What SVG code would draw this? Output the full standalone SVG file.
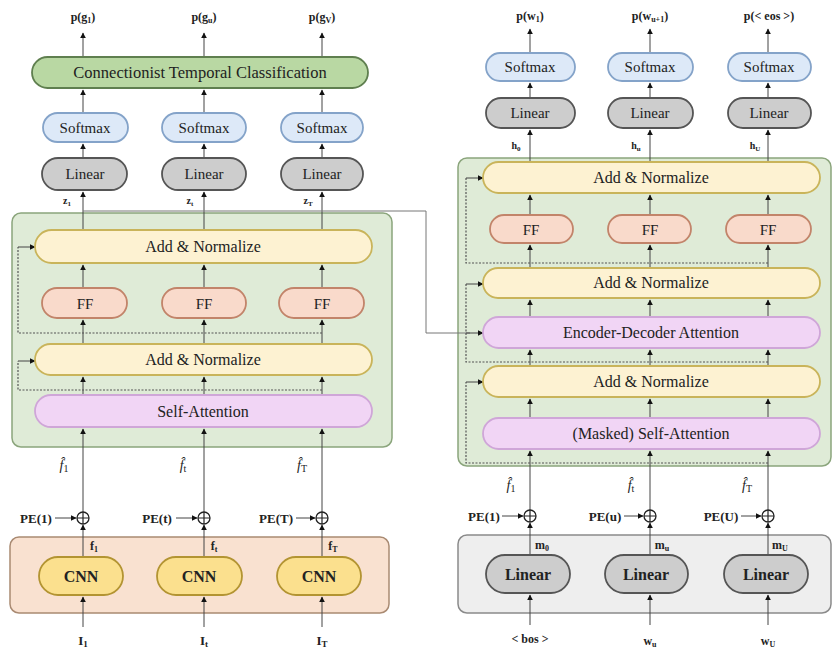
<svg xmlns="http://www.w3.org/2000/svg" width="833" height="652" viewBox="0 0 833 652">
<defs>
<marker id="ah" viewBox="0 0 10 10" refX="9" refY="5" markerWidth="6" markerHeight="6" orient="auto" markerUnits="userSpaceOnUse"><path d="M0,0 L10,5 L0,10 z" fill="#111"/></marker>
<style>
text{font-family:'Liberation Serif','DejaVu Serif',serif;fill:#222;text-anchor:middle}
.n{font-size:15px}
.b{font-weight:bold}
.s{font-size:12px;font-weight:bold}
.i{font-style:italic;font-size:14px}
.ar{stroke:#444;stroke-width:1;fill:none;marker-end:url(#ah)}
.da{stroke:#555;stroke-width:1.2;stroke-dasharray:2,1.5;fill:none}
.green{fill:#dfebd7;stroke:#8ba57c;stroke-width:1.5}
.yel{fill:#fdf2d2;stroke:#c9b45a;stroke-width:1.8}
.ff{fill:#f9dacb;stroke:#c2846a;stroke-width:1.8}
.pur{fill:#f1d5f5;stroke:#cfa6d8;stroke-width:1.8}
.sm{fill:#dde9f8;stroke:#84a3c9;stroke-width:1.8}
.lin{fill:#cdcdcd;stroke:#555;stroke-width:1.8}
.ctc{fill:#b9d8a3;stroke:#5f7f4f;stroke-width:1.8}
.org{fill:#f9e1d0;stroke:#a98a72;stroke-width:1.5}
.cnn{fill:#fbe08e;stroke:#b39432;stroke-width:1.8}
.gry{fill:#eeeeee;stroke:#8a8a8a;stroke-width:1.5}
.circ{fill:#fff;stroke:#222;stroke-width:1.3}
</style>
</defs>

<!-- containers -->
<g id="encoder-block"><rect x="12" y="213" width="380" height="234" rx="9" class="green"/></g>
<g id="cnn-block"><rect x="10" y="537" width="379" height="76" rx="9" class="org"/></g>
<g id="decoder-block"><rect x="458" y="158" width="373" height="308" rx="9" class="green"/></g>
<g id="embed-block"><rect x="458" y="535" width="373" height="78" rx="9" class="gry"/></g>

<!-- connectors -->
<g id="connectors">
<path class="ar" d="M83,627 V597"/><path class="ar" d="M204,627 V597"/><path class="ar" d="M322,627 V597"/>
<path class="ar" d="M83,557 V525"/><path class="ar" d="M204,557 V525"/><path class="ar" d="M322,557 V525"/>
<path class="ar" d="M83,512 V429"/><path class="ar" d="M204,512 V429"/><path class="ar" d="M322,512 V429"/>
<path class="ar" d="M83,395 V377"/><path class="ar" d="M204,395 V377"/><path class="ar" d="M322,395 V377"/>
<path class="ar" d="M83,344 V320"/><path class="ar" d="M204,344 V320"/><path class="ar" d="M322,344 V320"/>
<path class="ar" d="M83,288 V265"/><path class="ar" d="M204,288 V265"/><path class="ar" d="M322,288 V265"/>
<path class="ar" d="M83,230 V192"/><path class="ar" d="M204,230 V192"/><path class="ar" d="M322,230 V192"/>
<path class="ar" d="M83,158 V144"/><path class="ar" d="M204,158 V144"/><path class="ar" d="M322,158 V144"/>
<path class="ar" d="M83,113 V90"/><path class="ar" d="M204,113 V90"/><path class="ar" d="M322,113 V90"/>
<path class="ar" d="M83,57 V33"/><path class="ar" d="M204,57 V33"/><path class="ar" d="M322,57 V33"/>
<path class="ar" d="M55,518 H76"/><path class="ar" d="M176,518 H197"/><path class="ar" d="M296,518 H315"/>
<path class="da" d="M322,390 H18 V361"/><path class="ar" d="M18,361 H35"/>
<path class="da" d="M322,333 H18 V247"/><path class="ar" d="M18,247 H35"/>
<path d="M83,211 H426 V333 H470" stroke="#777" stroke-width="1" fill="none"/><path class="ar" d="M466,333 H483"/>
<path class="ar" d="M530,625 V595"/><path class="ar" d="M650,625 V595"/><path class="ar" d="M768,625 V595"/>
<path class="ar" d="M530,555 V523"/><path class="ar" d="M650,555 V523"/><path class="ar" d="M768,555 V523"/>
<path class="ar" d="M530,510 V451"/><path class="ar" d="M650,510 V451"/><path class="ar" d="M768,510 V451"/>
<path class="ar" d="M530,418 V399"/><path class="ar" d="M650,418 V399"/><path class="ar" d="M768,418 V399"/>
<path class="ar" d="M530,366 V350"/><path class="ar" d="M650,366 V350"/><path class="ar" d="M768,366 V350"/>
<path class="ar" d="M530,317 V300"/><path class="ar" d="M650,317 V300"/><path class="ar" d="M768,317 V300"/>
<path class="ar" d="M530,268 V245"/><path class="ar" d="M650,268 V245"/><path class="ar" d="M768,268 V245"/>
<path class="ar" d="M530,215 V195"/><path class="ar" d="M650,215 V195"/><path class="ar" d="M768,215 V195"/>
<path class="ar" d="M530,162 V130"/><path class="ar" d="M650,162 V130"/><path class="ar" d="M768,162 V130"/>
<path class="ar" d="M530,98 V83"/><path class="ar" d="M650,98 V83"/><path class="ar" d="M768,98 V83"/>
<path class="ar" d="M530,53 V29"/><path class="ar" d="M650,53 V29"/><path class="ar" d="M768,53 V29"/>
<path class="ar" d="M502,516 H523"/><path class="ar" d="M624,516 H643"/><path class="ar" d="M741,516 H761"/>
<path class="da" d="M768,463 H466 V382"/><path class="ar" d="M466,382 H483"/>
<path class="da" d="M768,362 H466 V284"/><path class="ar" d="M466,284 H483"/>
<path class="da" d="M768,263 H466 V178"/><path class="ar" d="M466,178 H483"/>
</g>

<!-- left nodes -->
<g id="ctc"><rect x="32" y="57" width="336" height="31" rx="15.5" class="ctc"/><text x="200" y="78" class="n" style="font-size:16.5px">Connectionist Temporal Classification</text></g>
<g id="enc-softmax-1"><rect x="43" y="113" width="85" height="29" rx="14.5" class="sm"/><text x="85" y="133" class="n">Softmax</text></g>
<g id="enc-softmax-t"><rect x="162" y="113" width="84" height="29" rx="14.5" class="sm"/><text x="204" y="133" class="n">Softmax</text></g>
<g id="enc-softmax-T"><rect x="281" y="113" width="82" height="29" rx="14.5" class="sm"/><text x="322" y="133" class="n">Softmax</text></g>
<g id="enc-linear-1"><rect x="42" y="158" width="85" height="32" rx="16" class="lin"/><text x="85" y="179" class="n">Linear</text></g>
<g id="enc-linear-t"><rect x="162" y="158" width="84" height="32" rx="16" class="lin"/><text x="204" y="179" class="n">Linear</text></g>
<g id="enc-linear-T"><rect x="281" y="158" width="82" height="32" rx="16" class="lin"/><text x="322" y="179" class="n">Linear</text></g>
<g id="enc-addnorm-2"><rect x="35" y="230" width="337" height="33" rx="16.5" class="yel"/><text x="203" y="252" class="n" style="font-size:16px">Add &amp; Normalize</text></g>
<g id="enc-ff-1"><rect x="42" y="288" width="85" height="30" rx="15" class="ff"/><text x="85" y="309" class="n">FF</text></g>
<g id="enc-ff-t"><rect x="162" y="288" width="84" height="30" rx="15" class="ff"/><text x="204" y="309" class="n">FF</text></g>
<g id="enc-ff-T"><rect x="279" y="288" width="85" height="30" rx="15" class="ff"/><text x="322" y="309" class="n">FF</text></g>
<g id="enc-addnorm-1"><rect x="35" y="344" width="337" height="31" rx="15.5" class="yel"/><text x="203" y="365" class="n" style="font-size:16px">Add &amp; Normalize</text></g>
<g id="enc-selfattn"><rect x="35" y="395" width="337" height="32" rx="16" class="pur"/><text x="203" y="417" class="n" style="font-size:16px">Self-Attention</text></g>
<g id="cnn-1"><rect x="39" y="557" width="84" height="38" rx="19" class="cnn"/><text x="81" y="582" class="n b" style="font-size:16px">CNN</text></g>
<g id="cnn-t"><rect x="157" y="557" width="85" height="38" rx="19" class="cnn"/><text x="199" y="582" class="n b" style="font-size:16px">CNN</text></g>
<g id="cnn-T"><rect x="277" y="557" width="84" height="38" rx="19" class="cnn"/><text x="319" y="582" class="n b" style="font-size:16px">CNN</text></g>
<g id="pe-enc-1"><circle cx="83" cy="518" r="6" class="circ"/><path d="M77,518 H89 M83,512 V524" stroke="#222" stroke-width="1.2"/></g>
<g id="pe-enc-t"><circle cx="204" cy="518" r="6" class="circ"/><path d="M198,518 H210 M204,512 V524" stroke="#222" stroke-width="1.2"/></g>
<g id="pe-enc-T"><circle cx="322" cy="518" r="6" class="circ"/><path d="M316,518 H328 M322,512 V524" stroke="#222" stroke-width="1.2"/></g>

<!-- right nodes -->
<g id="dec-softmax-1"><rect x="486" y="53" width="89" height="28" rx="14" class="sm"/><text x="530" y="72" class="n">Softmax</text></g>
<g id="dec-softmax-u"><rect x="608" y="53" width="85" height="28" rx="14" class="sm"/><text x="650" y="72" class="n">Softmax</text></g>
<g id="dec-softmax-U"><rect x="728" y="53" width="83" height="28" rx="14" class="sm"/><text x="769" y="72" class="n">Softmax</text></g>
<g id="dec-linear-1"><rect x="486" y="98" width="89" height="30" rx="15" class="lin"/><text x="530" y="118" class="n">Linear</text></g>
<g id="dec-linear-u"><rect x="608" y="98" width="85" height="30" rx="15" class="lin"/><text x="650" y="118" class="n">Linear</text></g>
<g id="dec-linear-U"><rect x="728" y="98" width="83" height="30" rx="15" class="lin"/><text x="769" y="118" class="n">Linear</text></g>
<g id="dec-addnorm-3"><rect x="483" y="162" width="337" height="31" rx="15.5" class="yel"/><text x="651" y="183" class="n" style="font-size:16px">Add &amp; Normalize</text></g>
<g id="dec-ff-1"><rect x="490" y="215" width="83" height="28" rx="14" class="ff"/><text x="531" y="235" class="n">FF</text></g>
<g id="dec-ff-u"><rect x="608" y="215" width="83" height="28" rx="14" class="ff"/><text x="650" y="235" class="n">FF</text></g>
<g id="dec-ff-U"><rect x="726" y="215" width="85" height="28" rx="14" class="ff"/><text x="768" y="235" class="n">FF</text></g>
<g id="dec-addnorm-2"><rect x="483" y="268" width="337" height="30" rx="15" class="yel"/><text x="651" y="288" class="n" style="font-size:16px">Add &amp; Normalize</text></g>
<g id="dec-encdec-attn"><rect x="483" y="317" width="337" height="31" rx="15.5" class="pur"/><text x="651" y="338" class="n" style="font-size:16px">Encoder-Decoder Attention</text></g>
<g id="dec-addnorm-1"><rect x="483" y="366" width="337" height="31" rx="15.5" class="yel"/><text x="651" y="387" class="n" style="font-size:16px">Add &amp; Normalize</text></g>
<g id="dec-masked-attn"><rect x="483" y="418" width="337" height="31" rx="15.5" class="pur"/><text x="651" y="439" class="n" style="font-size:16px">(Masked) Self-Attention</text></g>
<g id="emb-linear-1"><rect x="486" y="555" width="84" height="38" rx="19" class="lin"/><text x="528" y="580" class="n b" style="font-size:16px">Linear</text></g>
<g id="emb-linear-u"><rect x="605" y="555" width="83" height="38" rx="19" class="lin"/><text x="646" y="580" class="n b" style="font-size:16px">Linear</text></g>
<g id="emb-linear-U"><rect x="724" y="555" width="84" height="38" rx="19" class="lin"/><text x="766" y="580" class="n b" style="font-size:16px">Linear</text></g>
<g id="pe-dec-1"><circle cx="530" cy="516" r="6" class="circ"/><path d="M524,516 H536 M530,510 V522" stroke="#222" stroke-width="1.2"/></g>
<g id="pe-dec-u"><circle cx="650" cy="516" r="6" class="circ"/><path d="M644,516 H656 M650,510 V522" stroke="#222" stroke-width="1.2"/></g>
<g id="pe-dec-U"><circle cx="768" cy="516" r="6" class="circ"/><path d="M762,516 H774 M768,510 V522" stroke="#222" stroke-width="1.2"/></g>

<!-- labels -->
<g id="labels">
<text x="83" y="21" class="s">p(g<tspan font-size="8" dy="2">1</tspan><tspan dy="-2">)</tspan></text>
<text x="204" y="21" class="s">p(g<tspan font-size="8" dy="2">u</tspan><tspan dy="-2">)</tspan></text>
<text x="322" y="21" class="s">p(g<tspan font-size="8" dy="2">V</tspan><tspan dy="-2">)</tspan></text>
<text x="530" y="20" class="s">p(w<tspan font-size="8" dy="2">1</tspan><tspan dy="-2">)</tspan></text>
<text x="650" y="20" class="s">p(w<tspan font-size="8" dy="2">u+1</tspan><tspan dy="-2">)</tspan></text>
<text x="769" y="20" class="s">p(&lt; eos &gt;)</text>
<text x="67" y="204" class="s" style="font-size:10px">z<tspan font-size="7" dy="2">1</tspan></text>
<text x="190" y="204" class="s" style="font-size:10px">z<tspan font-size="7" dy="2">t</tspan></text>
<text x="308" y="204" class="s" style="font-size:10px">z<tspan font-size="7" dy="2">T</tspan></text>
<text x="516" y="149" class="s" style="font-size:10px">h<tspan font-size="7" dy="2">0</tspan></text>
<text x="636" y="149" class="s" style="font-size:10px">h<tspan font-size="7" dy="2">u</tspan></text>
<text x="755" y="149" class="s" style="font-size:10px">h<tspan font-size="7" dy="2">U</tspan></text>
<text x="64" y="470" class="i">f̂<tspan font-size="10" font-style="normal" dy="2">1</tspan></text>
<text x="183" y="470" class="i">f̂<tspan font-size="10" font-style="normal" dy="2">t</tspan></text>
<text x="302" y="470" class="i">f̂<tspan font-size="10" font-style="normal" dy="2">T</tspan></text>
<text x="511" y="490" class="i">f̂<tspan font-size="10" font-style="normal" dy="2">1</tspan></text>
<text x="631" y="490" class="i">f̂<tspan font-size="10" font-style="normal" dy="2">t</tspan></text>
<text x="747" y="490" class="i">f̂<tspan font-size="10" font-style="normal" dy="2">T</tspan></text>
<text x="36" y="523" class="s" style="font-size:13px">PE(1)</text>
<text x="157" y="523" class="s" style="font-size:13px">PE(t)</text>
<text x="276" y="523" class="s" style="font-size:13px">PE(T)</text>
<text x="484" y="521" class="s" style="font-size:13px">PE(1)</text>
<text x="605" y="521" class="s" style="font-size:13px">PE(u)</text>
<text x="721" y="521" class="s" style="font-size:13px">PE(U)</text>
<text x="94" y="550" class="s">f<tspan font-size="8" dy="2">1</tspan></text>
<text x="214" y="550" class="s">f<tspan font-size="8" dy="2">t</tspan></text>
<text x="333" y="550" class="s">f<tspan font-size="8" dy="2">T</tspan></text>
<text x="542" y="549" class="s">m<tspan font-size="8" dy="2">0</tspan></text>
<text x="662" y="549" class="s">m<tspan font-size="8" dy="2">u</tspan></text>
<text x="780" y="549" class="s">m<tspan font-size="8" dy="2">U</tspan></text>
<text x="83" y="645" class="s" style="font-size:13px">I<tspan font-size="9" dy="2">1</tspan></text>
<text x="204" y="645" class="s" style="font-size:13px">I<tspan font-size="9" dy="2">t</tspan></text>
<text x="322" y="645" class="s" style="font-size:13px">I<tspan font-size="9" dy="2">T</tspan></text>
<text x="530" y="643" class="s">&lt; bos &gt;</text>
<text x="650" y="645" class="s">w<tspan font-size="8" dy="2">u</tspan></text>
<text x="768" y="645" class="s">w<tspan font-size="8" dy="2">U</tspan></text>
</g>
</svg>
